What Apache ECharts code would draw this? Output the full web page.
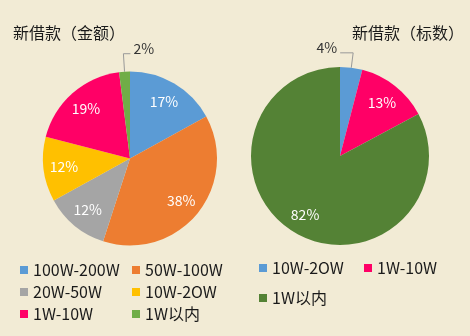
<!DOCTYPE html>
<html>
<head>
<meta charset="utf-8">
<script src="https://cdn.jsdelivr.net/npm/echarts@6/dist/echarts.min.js"></script>
<style>
html,body{margin:0;padding:0;background:#f2ebd5;}
#c{width:470px;height:336px;}
</style>
</head>
<body>
<div id="c"></div>
<script>
const leftTitle = '新借款（金额）';
const rightTitle = '新借款（标数）';
const leftCats = ['100W-200W', '50W-100W', '20W-50W', '10W-2OW', '1W-10W', '1W以内'];
const leftVals = [17, 38, 12, 12, 19, 2];
const leftColors = ['#5b9bd5', '#ed7d31', '#a5a5a5', '#ffc000', '#ff0066', '#70ad47'];
const rightCats = ['10W-2OW', '1W-10W', '1W以内'];
const rightVals = [4, 13, 82];
const rightColors = ['#5b9bd5', '#ff0066', '#548235'];

const FONT = '"Noto Sans CJK SC", "Noto Sans", sans-serif';
const SMALL = 5;
const SUFFIX = '\u0001R';

function mainData(cats, vals, colors, suffix) {
  return cats.map((c, i) => ({
    name: c + suffix,
    value: vals[i],
    itemStyle: { color: colors[i] },
    label: { show: vals[i] < SMALL },
    labelLine: { show: vals[i] < SMALL }
  }));
}
function overlayData(cats, vals, suffix) {
  return cats.map((c, i) => ({
    name: c + suffix,
    value: vals[i],
    label: { show: vals[i] >= SMALL }
  }));
}
const pctFmt = p => p.value + '%';

// Mirror the horizontal part of the library's label line to the other side.
function flipLabel(p) {
  const pts = p.labelLinePoints;
  if (!pts || pts.length < 3) return {};
  const a = pts[0], b = pts[1], e = pts[2];
  const ne = [2 * b[0] - e[0], e[1]];
  const toLeft = ne[0] < b[0];
  return {
    labelLinePoints: [a, b, ne],
    x: ne[0] + (toLeft ? -3 : 3),
    y: ne[1] - 5,
    align: toLeft ? 'right' : 'left',
    verticalAlign: 'middle'
  };
}

const chart = echarts.init(document.getElementById('c'));
const legendText = { fontSize: 16, color: '#1a1a1a', fontFamily: FONT };
const legendBase = { orient: 'vertical', icon: 'rect', itemWidth: 8, itemHeight: 8, padding: 0, textStyle: legendText, selectedMode: false, formatter: n => n.replace(SUFFIX, '') };
const titleText = { fontSize: 16, fontWeight: 'normal', color: '#1a1a1a', fontFamily: FONT };

chart.setOption({
  backgroundColor: '#f2ebd5',
  animation: false,
  textStyle: { fontFamily: FONT },
  title: [
    { text: leftTitle, left: 13, top: 25, padding: 0, textStyle: titleText },
    { text: rightTitle, left: 352, top: 25, padding: 0, textStyle: titleText }
  ],
  legend: [
    Object.assign({}, legendBase, { left: 20, top: 262, itemGap: 6, data: [leftCats[0], leftCats[2], leftCats[4]] }),
    Object.assign({}, legendBase, { left: 132, top: 262, itemGap: 6, data: [leftCats[1], leftCats[3], leftCats[5]] }),
    Object.assign({}, legendBase, { left: 259, top: 260, itemGap: 14, data: [rightCats[0] + SUFFIX, rightCats[2] + SUFFIX] }),
    Object.assign({}, legendBase, { left: 364, top: 260, itemGap: 14, data: [rightCats[1] + SUFFIX] })
  ],
  series: [
    {
      type: 'pie', center: [130, 158.5], radius: [0, 87], startAngle: 90,
      avoidLabelOverlap: false,
      label: { position: 'outside', formatter: pctFmt, fontSize: 14, color: '#333', fontFamily: FONT },
      labelLine: { length: 18, length2: 7, lineStyle: { color: '#999', width: 1 } },
      labelLayout: flipLabel,
      itemStyle: { borderWidth: 0 },
      data: mainData(leftCats, leftVals, leftColors, '')
    },
    {
      type: 'pie', center: [340, 156], radius: [0, 89], startAngle: 90,
      avoidLabelOverlap: false,
      label: { position: 'outside', formatter: pctFmt, fontSize: 14, color: '#333', fontFamily: FONT },
      labelLine: { length: 15, length2: 13, lineStyle: { color: '#999', width: 1 } },
      labelLayout: flipLabel,
      itemStyle: { borderWidth: 0 },
      data: mainData(rightCats, rightVals, rightColors, SUFFIX)
    },
    {
      type: 'pie', center: [130, 158.5], radius: [0, 127], startAngle: 90, silent: true, z: 5,
      itemStyle: { color: 'rgba(0,0,0,0)' },
      label: { position: 'inside', formatter: pctFmt, fontSize: 14, color: '#fff', fontFamily: FONT },
      data: overlayData(leftCats, leftVals, '')
    },
    {
      type: 'pie', center: [340, 156], radius: [0, 130], startAngle: 90, silent: true, z: 5,
      itemStyle: { color: 'rgba(0,0,0,0)' },
      label: { position: 'inside', formatter: pctFmt, fontSize: 14, color: '#fff', fontFamily: FONT },
      data: overlayData(rightCats, rightVals, SUFFIX)
    }
  ]
});
</script>
</body>
</html>
